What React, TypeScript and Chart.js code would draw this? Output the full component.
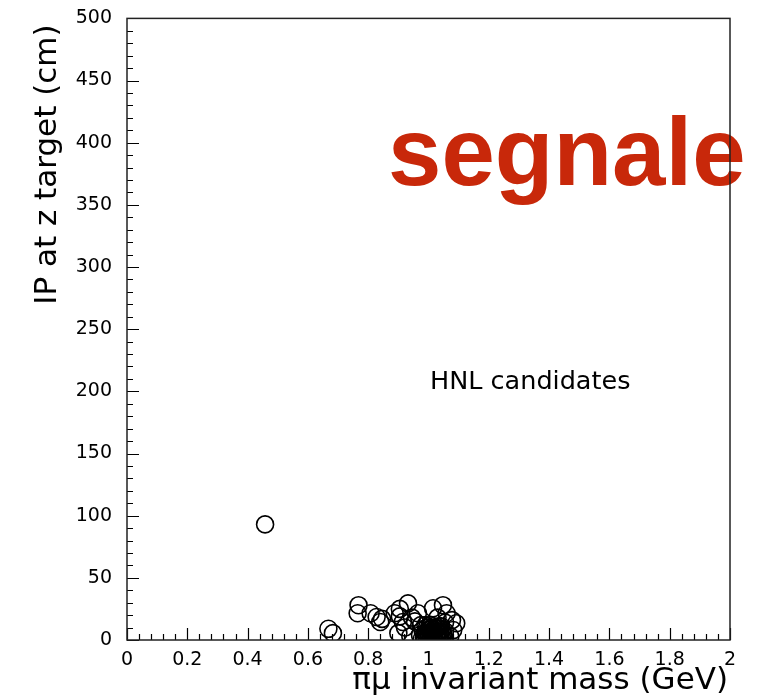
import React, { useEffect, useRef } from "react";
import { Chart, registerables } from "chart.js";
Chart.register(...registerables);

// π μ invariant mass (GeV)
const massGeV: number[] = [
  0.458, 0.668, 0.683, 0.768, 0.765, 0.808, 0.828, 0.846, 0.840, 0.888,
  0.905, 0.932, 0.915, 0.900, 0.922, 0.945, 0.965, 0.955, 0.940, 1.015,
  1.048, 1.060, 1.055, 1.078, 1.092, 1.082, 1.072, 0.975, 1.030, 0.905,
  0.985, 0.990, 0.995, 1.000, 1.000, 1.005, 1.005, 1.010, 1.010, 1.015,
  1.015, 1.020, 1.020, 1.025, 1.025, 1.030, 1.030, 1.035, 1.035, 1.040,
  1.040, 1.045, 1.045, 0.990, 0.995, 1.000, 1.012, 1.022, 1.028, 1.038,
  0.980, 1.050, 0.992, 1.008, 1.018, 1.032, 1.002, 1.042, 0.972, 1.055,
  0.978, 1.052,
];
// impact parameter at z target (cm)
const ipCm: number[] = [
  93, 9, 5.5, 28, 21.5, 21.5, 18.5, 17, 14.5, 21.5,
  19, 29.5, 14.5, 5.5, 10, 18, 21.5, 15, 3, 25.5,
  28, 21.5, 14, 16, 13.5, 8, 3, 12, 18, 25,
  2, 6, 10, 3, 8, 12, 0.5, 5, 9, 2,
  11, 6, 0, 4, 9, 1, 7, 11, 3, 5,
  0.5, 8, 2, 12, 1, 5.5, 7, 10, 2.5, 6.5,
  8, 4, 3.5, 3, 8, 9.5, 10, 11, 4, 7,
  1, 1,
];

const xMin = 0;
const xMax = 2;
const xStep = 0.2;
const yMin = 0;
const yMax = 500;
const yStep = 50;
const xMinorPerMajor = 5;
const yMinorPerMajor = 5;

const xTitle = "πμ invariant mass (GeV)";
const yTitle = "IP at z target (cm)";
const noteText = "HNL candidates";
const noteAt = { x: 1.005, y: 207 };
const stampText = "segnale";

const FONT = "'DejaVu Sans', sans-serif";

const framePlugin = {
  id: "rootFrame",
  afterDraw(chart: any) {
    const { ctx, chartArea: a, scales } = chart;
    const xs = scales.x;
    const ys = scales.y;
    ctx.save();

    // stamp text
    ctx.fillStyle = "#c8280a";
    ctx.font = `bold 96px 'Liberation Sans', Arial, sans-serif`;
    ctx.textAlign = "left";
    ctx.textBaseline = "alphabetic";
    ctx.fillText(stampText, 388, 185);

    // note text
    ctx.fillStyle = "#000";
    ctx.font = `25.5px ${FONT}`;
    ctx.textBaseline = "middle";
    ctx.fillText(noteText, xs.getPixelForValue(noteAt.x), ys.getPixelForValue(noteAt.y));

    // axis titles
    ctx.font = `31px ${FONT}`;
    ctx.textAlign = "right";
    ctx.textBaseline = "middle";
    ctx.fillText(xTitle, a.right - 2, 681);
    ctx.save();
    ctx.translate(48, a.top + 6);
    ctx.rotate(-Math.PI / 2);
    ctx.textAlign = "right";
    ctx.fillText(yTitle, 0, 0);
    ctx.restore();

    // ticks
    ctx.strokeStyle = "#000";
    ctx.lineWidth = 1.2;
    ctx.beginPath();
    const xMinor = xStep / xMinorPerMajor;
    const nx = Math.round((xMax - xMin) / xMinor);
    for (let i = 0; i <= nx; i++) {
      const v = xMin + i * xMinor;
      const px = Math.round(xs.getPixelForValue(v)) + 0.5;
      const len = i % xMinorPerMajor === 0 ? 12 : 6;
      ctx.moveTo(px, a.bottom);
      ctx.lineTo(px, a.bottom - len);
    }
    const yMinor = yStep / yMinorPerMajor;
    const ny = Math.round((yMax - yMin) / yMinor);
    for (let i = 0; i <= ny; i++) {
      const v = yMin + i * yMinor;
      const py = Math.round(ys.getPixelForValue(v)) + 0.5;
      const len = i % yMinorPerMajor === 0 ? 12 : 6;
      ctx.moveTo(a.left, py);
      ctx.lineTo(a.left + len, py);
    }
    ctx.stroke();

    // frame
    ctx.lineWidth = 1.5;
    ctx.strokeStyle = "#222";
    ctx.strokeRect(a.left, a.top, a.right - a.left, a.bottom - a.top);
    ctx.restore();
  },
};

export default function App() {
  const ref = useRef<HTMLCanvasElement | null>(null);
  useEffect(() => {
    document.body.style.margin = "0";
    const canvas = ref.current!;
    const points = massGeV.map((m, i) => ({ x: m, y: ipCm[i] }));
    const chart = new Chart(canvas, {
      type: "scatter",
      data: {
        datasets: [
          {
            data: points,
            pointStyle: "circle",
            pointRadius: 8.5,
            pointBorderWidth: 1.6,
            borderColor: "#000",
            backgroundColor: "rgba(0,0,0,0)",
            pointBackgroundColor: "rgba(0,0,0,0)",
            clip: 0,
          } as any,
        ],
      },
      options: {
        responsive: false,
        animation: false,
        devicePixelRatio: 1,
        layout: { padding: { left: 0, top: 12, right: 27, bottom: 0 } },
        plugins: {
          legend: { display: false },
          tooltip: { enabled: false },
          title: { display: false },
        },
        scales: {
          x: {
            type: "linear",
            min: xMin,
            max: xMax,
            border: { display: false },
            grid: { display: false },
            afterFit: (s: any) => {
              s.height = 59;
            },
            ticks: {
              stepSize: xStep,
              autoSkip: false,
              maxRotation: 0,
              padding: 1,
              color: "#000",
              font: { family: FONT, size: 19 },
              callback: (v: any) => String(Number(Number(v).toFixed(1))),
            },
          },
          y: {
            type: "linear",
            min: yMin,
            max: yMax,
            border: { display: false },
            grid: { display: false },
            afterFit: (s: any) => {
              s.width = 127;
            },
            ticks: {
              stepSize: yStep,
              autoSkip: false,
              padding: 7,
              color: "#000",
              font: { family: FONT, size: 19 },
            },
          },
        },
      },
      plugins: [framePlugin],
    });
    return () => chart.destroy();
  }, []);
  return <canvas ref={ref} width={757} height={699} style={{ display: "block" }} />;
}
